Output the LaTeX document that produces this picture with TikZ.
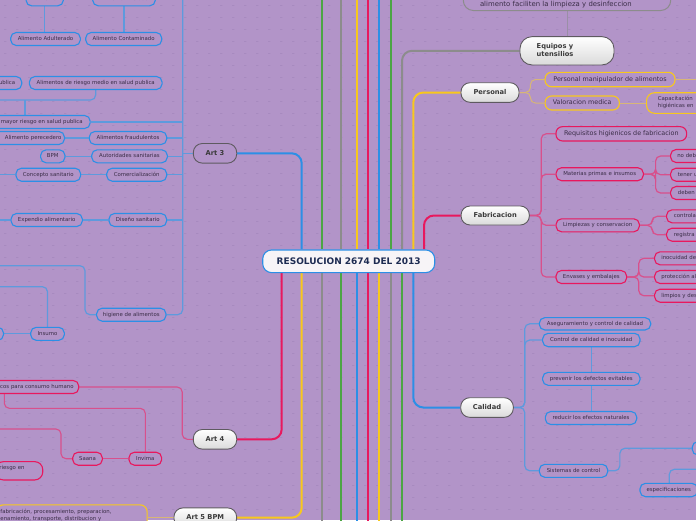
\documentclass[tikz,border=0pt]{standalone}
\usepackage{fontspec}
\setmainfont{DejaVu Sans}
\usetikzlibrary{calc}
\definecolor{bg}{HTML}{B294C8}
\definecolor{dotc}{HTML}{A78ABF}
\definecolor{cgreen}{HTML}{4CA544}
\definecolor{cgray}{HTML}{8C8C8C}
\definecolor{cyel}{HTML}{F8C81C}
\definecolor{cred}{HTML}{E8185E}
\definecolor{cblue}{HTML}{2C8FE6}
\definecolor{lblue}{HTML}{5E9ADD}
\definecolor{lpink}{HTML}{D8508C}
\definecolor{ltan}{HTML}{D8B677}
\definecolor{lgray}{HTML}{9A8FA6}
\definecolor{txt}{HTML}{3A2D47}
\definecolor{mtxt}{HTML}{3A3A3A}
\definecolor{mgray}{HTML}{5E5A60}
\definecolor{shadec}{HTML}{DADADA}
\definecolor{navy}{HTML}{1D2B52}
\definecolor{cfill}{HTML}{F7F4F7}
\pgfdeclarelayer{bgl}
\pgfsetlayers{bgl,main}
\tikzset{
 kid/.style={draw, fill=bg, line width=1.1pt, rounded corners=5.5pt, text=txt,
   font=\fontsize{5.4}{7}\selectfont, inner sep=0pt, minimum height=13pt,
   text height=3.9pt, text depth=1.3pt},
 kidl/.style={kid, font=\fontsize{6.4}{8}\selectfont, text height=4.6pt, text depth=1.5pt, rounded corners=6.5pt},
 kb/.style={kid, draw=cblue},
 kr/.style={kid, draw=cred},
 ky/.style={kid, draw=cyel},
 partE/.style={anchor=east, text width=120pt, align=right, inner xsep=#1},
 partW/.style={anchor=west, text width=80pt, align=left, inner xsep=#1},
 mainbase/.style={draw=mgray, line width=.9pt, rounded corners=9pt, text=mtxt,
   font=\fontsize{6.7}{8}\selectfont\bfseries, inner sep=0pt, minimum height=19.6pt,
   text height=4.9pt, text depth=1.4pt},
 main/.style={mainbase, top color=white, bottom color=shadec},
 cnode/.style={draw=cblue, line width=1.1pt, fill=cfill, rounded corners=9pt,
   minimum width=172pt, minimum height=22.7pt, inner sep=0pt, text=navy,
   font=\fontsize{9}{10}\selectfont\bfseries, text height=6.6pt, text depth=0pt},
 trunk/.style={line width=2pt, rounded corners=10pt},
 twig/.style={line width=1.2pt, rounded corners=5pt},
}
\begin{document}
\begin{tikzpicture}[x=1pt,y=-1pt]
\useasboundingbox (0,0) rectangle (696,520);
\clip (0,0) rectangle (696,520);
\begin{pgfonlayer}{bgl}
\fill[bg] (0,0) rectangle (696,520);
\fill[dotc] \foreach \i in {0,...,58} { \foreach \j in {0,...,43} { (\i*12+4, \j*12+5) rectangle ++(2.4,0.9) } };
\end{pgfonlayer}

% center
\node[cnode] (c) at (348.7,261.3) {RESOLUCION 2674 DEL 2013};

% main nodes
\node[mainbase, fill=bg, minimum width=43.4pt] (art3) at (215,153.3) {Art 3};
\node[main, minimum width=43.4pt] (art4) at (215,439.3) {Art 4};
\node[main, minimum width=62.7pt] (art5) at (205.3,517.7) {Art 5 BPM};
\node[main, minimum width=58pt] (pers) at (490,92.5) {Personal};
\node[main, minimum width=68.3pt, minimum height=19pt] (fab) at (495.2,215.5) {Fabricacion};
\node[main, minimum width=52.6pt] (cal) at (487,407.5) {Calidad};
\node[main, minimum width=94pt, minimum height=28.3pt, text width=60.6pt, inner xsep=16.7pt,
  align=left, text depth=9.4pt, rounded corners=12pt] (equip) at (567,50.8) {Equipos y\\utensilios};
\node[draw=cgray, fill=bg, line width=1pt, rounded corners=10pt, text width=174pt, inner xsep=16.7pt,
  inner ysep=0pt, align=left, text height=20pt, text depth=4.3pt, anchor=south, text=txt,
  font=\fontsize{6.9}{8.5}\selectfont] (tb) at (567,11) {alimento faciliten la limpieza y desinfeccion};

% Art 3 children
\node[kb, minimum width=37.3pt] (alim) at (44.7,-0.7) {Alimento};
\node[kb, minimum width=62.6pt] (alter) at (124,-0.7) {Alimento Alterado};
\node[kb, minimum width=69.6pt] (adult) at (45.5,39) {Alimento Adulterado};
\node[kb, minimum width=76pt] (contam) at (123.7,39) {Alimento Contaminado};
\node[kb, partE=6.6pt] (bajo) at (22.3,83) {ublica};
\node[kb, minimum width=132.7pt] (medio) at (95.7,83) {Alimentos de riesgo medio en salud publica};
\node[kb, partE=7.4pt] (mayor) at (90.7,122) {mayor riesgo en salud publica};
\node[kb, partE=3pt] (perec) at (65,138) {Alimento perecedero};
\node[kb, minimum width=77.4pt] (fraud) at (128,138) {Alimentos fraudulentos};
\node[kb, minimum width=24.3pt] (bpm) at (52.8,156.3) {BPM};
\node[kb, minimum width=75.6pt] (autor) at (129.5,156.3) {Autoridades sanitarias};
\node[kb, minimum width=64.7pt] (concepto) at (48.3,174.7) {Concepto sanitario};
\node[kb, minimum width=60pt] (comerc) at (136.7,174.7) {Comercialización};
\node[kb, minimum width=71.3pt] (expend) at (46.7,220) {Expendio alimentario};
\node[kb, minimum width=57.7pt] (diseno) at (137.8,220) {Diseño sanitario};
\node[kb, minimum width=69.3pt] (hig) at (131.3,314.7) {higiene de alimentos};
\node[kb, minimum width=33.6pt] (insumo) at (47.5,333.8) {Insumo};
\node[kb, anchor=east, minimum width=40pt] (insl) at (4,333.8) {};

% Art 4 children
\node[kr, partE=5.2pt] (cons) at (79.3,387) {cos para consumo humano};
\node[kr, minimum width=29.6pt] (saana) at (87.5,458.7) {Saana};
\node[kr, minimum width=32.7pt] (invima) at (145.3,458.7) {Invima};
\node[kr, anchor=east, text width=39.3pt, align=left, inner xsep=4pt, minimum height=18.3pt,
  rounded corners=8pt, text depth=6.3pt] (ries) at (43.3,470.8) {riesgo en};

% Art 5 child
\node[ky, anchor=north east, text width=142.7pt, align=left, inner xsep=4pt, inner ysep=4.5pt,
  rounded corners=7pt, text depth=20pt] (act) at (147.7,504.3)
  {fabricación, procesamiento, preparacion,\\enamiento, transporte, distribucion y};

% Personal children
\node[ky, kidl, draw=cyel, minimum width=130pt, minimum height=14.4pt] (manip) at (610,79.5) {Personal manipulador de alimentos};
\node[ky, kidl, draw=cyel, minimum width=74.3pt, minimum height=14pt] (valor) at (582.2,103) {Valoracion medica};
\node[ky, partW=11.3pt, minimum height=20.6pt, rounded corners=8pt, text depth=8.6pt,
  font=\fontsize{5.4}{7.3}\selectfont] (capac) at (646,103) {Capacitación\\higiénicas en};

% Fabricacion children
\node[kr, kidl, draw=cred, minimum width=130.7pt, minimum height=14.3pt] (req) at (621.3,133.8) {Requisitos higienicos de fabricacion};
\node[kr, minimum width=87.3pt] (mat) at (599.7,174.2) {Materias primas e insumos};
\node[kr, partW=6.7pt] (nod) at (670,156) {no deb};
\node[kr, partW=7.3pt] (tener) at (670,174.7) {tener u};
\node[kr, partW=7.3pt] (deben) at (670,193) {deben};
\node[kr, minimum width=83.3pt] (limp) at (597.7,225.3) {Limpiezas y conservacion};
\node[kr, partW=7.3pt] (contr) at (666,216.3) {controla};
\node[kr, partW=7.3pt] (regis) at (666,234.7) {registra};
\node[kr, minimum width=70.7pt] (env) at (591.3,277) {Envases y embalajes};
\node[kr, partW=6.7pt] (inoc) at (654,258.3) {inocuidad de};
\node[kr, partW=6.7pt] (prot) at (654,277) {protección al};
\node[kr, partW=6.7pt] (limpios) at (654,295.7) {limpios y des};

% Calidad children
\node[kb, minimum width=111.4pt, minimum height=12.3pt] (aseg) at (595,323.8) {Aseguramiento y control de calidad};
\node[kb, minimum width=97.3pt, minimum height=13.4pt] (ctrl) at (591.3,340) {Control de calidad e inocuidad};
\node[kb, minimum width=97.3pt] (prev) at (591.3,378.8) {prevenir los defectos evitables};
\node[kb, minimum width=91.4pt] (reduc) at (591,418) {reducir los efectos naturales};
\node[kb, minimum width=68.4pt] (sist) at (573.5,470.8) {Sistemas de control};
\node[kb, anchor=west, minimum width=30pt, minimum height=13.3pt] (sisr) at (691.7,448.3) {};
\node[kb, minimum width=57.4pt, minimum height=13.4pt] (espec) at (668.7,490) {especificaciones};

% free ends
\coordinate (a3t) at (182.7,153.3);
\coordinate (a3top) at (182.7,-3);
\coordinate (mbr) at (25,100);
\coordinate (mbrL) at (-5,100);
\coordinate (L1) at (-5,174.7);
\coordinate (L2) at (-5,220);
\coordinate (hbr) at (85,265.7);
\coordinate (hbrL) at (-5,265.7);
\coordinate (ibrL) at (-5,286.7);
\coordinate (cb1) at (4.3,0);
\coordinate (cb2) at (100,408.3);
\coordinate (sbr) at (61,429);
\coordinate (sbrL) at (-5,429);
\coordinate (manR) at (705,79.5);
\coordinate (esx) at (669.3,0);
\coordinate (espR) at (705,469.3);

\begin{pgfonlayer}{bgl}
% long vertical branches
\foreach \xx/\cc [count=\i] in {321.7/cgreen, 341.3/cgray, 356.7/cyel, 368.3/cred, 379.3/cblue, 390.7/cgreen} {
  \coordinate (up\i) at (\xx,-3);
  \draw[\cc, line width=2pt] (up\i) -- (up\i |- c.north);
}
\foreach \xx/\cc [count=\i] in {321.7/cgray, 341.3/cgreen, 356.7/cblue, 368.3/cred, 379.3/cyel, 390.7/cgray, 402/cgreen} {
  \coordinate (dn\i) at (\xx,523);
  \draw[\cc, line width=2pt] (dn\i) -- (dn\i |- c.south);
}
% main branches
\draw[cblue, trunk] ([xshift=-47pt]c.north) |- (art3.east);
\draw[cred, trunk] ([xshift=-67pt]c.south) |- (art4.east);
\draw[cyel, trunk] ([xshift=-47pt]c.south) |- (art5.east);
\draw[cgray, trunk] ([xshift=53.3pt]c.north) |- (equip.west);
\draw[cyel, trunk] ([xshift=64.6pt]c.north) |- (pers.west);
\draw[cred, trunk] ([xshift=75.3pt]c.north) |- (fab.west);
\draw[cblue, trunk] ([xshift=64.6pt]c.south) |- (cal.west);

% Art 3 twigs
\begin{scope}[lblue, twig]
\draw (art3.west) -- (a3t);
\draw (a3top) |- (hig.east);
\draw (mayor.east) -- (mayor.east -| a3t);
\draw (fraud.east) -- (fraud.east -| a3t);
\draw (autor.east) -- (autor.east -| a3t);
\draw (comerc.east) -- (comerc.east -| a3t);
\draw (diseno.east) -- (diseno.east -| a3t);
\draw (alim.south) -- (alim.south |- adult.north);
\draw (alter.south) -- (alter.south |- contam.north);
\draw (medio.south) |- (mbrL);
\draw (mbr) -- (mbr |- mayor.north);
\draw (perec.east) -- (fraud.west);
\draw (bpm.east) -- (autor.west);
\draw (L1) -- (concepto.west);
\draw (concepto.east) -- (comerc.west);
\draw (L2) -- (expend.west);
\draw (expend.east) -- (diseno.west);
\draw (hig.west) -| (hbr) -- (hbrL);
\draw (insumo.north) |- (ibrL);
\draw (insl.east) -- (insumo.west);
\end{scope}

% Art 4 twigs
\begin{scope}[lpink, twig, line width=1.1pt]
\draw (art4.west) -- ++(-10.6,0) |- (cons.east);
\draw (cons.south -| cb1) |- (cb2) -| (invima.north);
\draw (saana.east) -- (invima.west);
\draw (saana.west) -| (sbr) -- (sbrL);
\end{scope}

% Art 5 twig
\draw[ltan, twig] (art5.west) -- (art5.west -| act.east);

% right side twigs
\draw[lgray, twig, line width=1pt] (equip.north) -- (equip.north |- tb.south);
\begin{scope}[ltan, twig, line width=1pt]
\draw (pers.east) -- ++(11,0) |- (manip.west);
\draw (pers.east) -- ++(11,0) |- (valor.west);
\draw (manip.east) -- (manR);
\draw (valor.east) -- (capac.west);
\end{scope}
\begin{scope}[lpink, twig]
\draw (fab.east) -- ++(11.4,0) |- (req.west);
\draw (fab.east) -- ++(11.4,0) |- (mat.west);
\draw (fab.east) -- ++(11.4,0) |- (limp.west);
\draw (fab.east) -- ++(11.4,0) |- (env.west);
\draw (mat.east) -- ++(11.7,0) |- (nod.west);
\draw (mat.east) -- ++(11.7,0) |- (tener.west);
\draw (mat.east) -- ++(11.7,0) |- (deben.west);
\draw (limp.east) -- ++(12.4,0) |- (contr.west);
\draw (limp.east) -- ++(12.4,0) |- (regis.west);
\draw (env.east) -- ++(11.6,0) |- (inoc.west);
\draw (env.east) -- ++(11.6,0) |- (prot.west);
\draw (env.east) -- ++(11.6,0) |- (limpios.west);
\end{scope}
\begin{scope}[lblue, twig]
\draw (cal.east) -- ++(11,0) |- (aseg.west);
\draw (cal.east) -- ++(11,0) |- (ctrl.west);
\draw (cal.east) -- ++(11,0) |- (sist.west);
\draw (ctrl.south) -- (ctrl.south |- prev.north);
\draw (prev.south) -- (prev.south |- reduc.north);
\draw (sist.east) -- ++(11.6,0) |- (sisr.west);
\draw (espec.north -| esx) |- (espR);
\end{scope}
\end{pgfonlayer}
\end{tikzpicture}
\end{document}
